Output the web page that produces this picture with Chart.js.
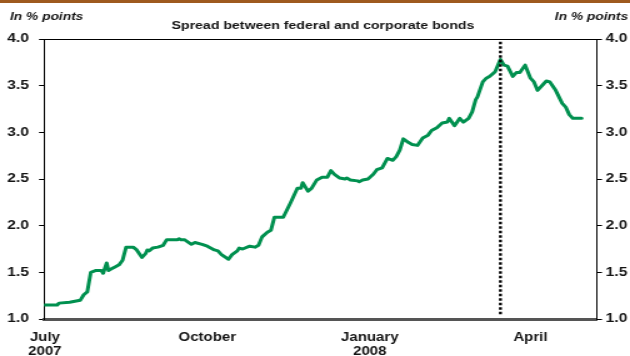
<!DOCTYPE html>
<html>
<head>
<meta charset="utf-8">
<script src="https://cdn.jsdelivr.net/npm/chart.js@4/dist/chart.umd.min.js"></script>
<style>
  html, body { margin: 0; padding: 0; background: #fff; overflow: hidden; }
  /* The chart is laid out narrow and widened horizontally, giving the wide lettering of the print original */
  #wrap { position: absolute; left: 0; top: 0; width: 504px; height: 356px; transform: scaleX(1.25); transform-origin: 0 0; }
</style>
</head>
<body>
<div id="wrap"><canvas id="chart"></canvas></div>
<script>
// Days since 1 July 2007
const days = [
  0, 7, 8, 14, 20, 22, 24, 26, 29, 32, 33, 35, 36, 38, 40, 42, 44, 46, 50, 52,
  55, 57, 58, 59, 61, 64, 67, 69, 75, 76, 77, 79, 83, 85, 89, 92, 96, 98, 100, 104,
  106, 109, 110, 112, 116, 119, 121, 123, 126, 128, 130, 135, 139, 143, 145, 146, 149, 151, 154, 157,
  160, 162, 164, 167, 170, 171, 173, 177, 178, 180, 183, 186, 188, 191, 194, 197, 199, 201, 203, 206,
  208, 211, 214, 217, 219, 222, 225, 228, 229, 232, 235, 237, 240, 242, 244, 245, 248, 250, 252, 255,
  258, 260, 262, 265, 267, 269, 272, 275, 277, 279, 282, 284, 286, 289, 293, 295, 297, 299, 304
];
// Spread between federal and corporate bonds, percentage points
const spread = [
  1.15, 1.15, 1.17, 1.18, 1.20, 1.26, 1.29, 1.50, 1.52, 1.52, 1.49, 1.60, 1.52, 1.54, 1.56, 1.58, 1.63, 1.77, 1.77, 1.74,
  1.66, 1.70, 1.74, 1.73, 1.76, 1.77, 1.79, 1.85, 1.85, 1.86, 1.85, 1.85, 1.80, 1.82, 1.80, 1.78, 1.74, 1.73, 1.69, 1.64,
  1.69, 1.73, 1.76, 1.75, 1.78, 1.77, 1.79, 1.88, 1.93, 1.95, 2.09, 2.09, 2.24, 2.40, 2.40, 2.46, 2.37, 2.40, 2.49, 2.52,
  2.52, 2.59, 2.55, 2.51, 2.50, 2.51, 2.49, 2.48, 2.47, 2.49, 2.50, 2.55, 2.60, 2.62, 2.72, 2.70, 2.74, 2.81, 2.93, 2.89,
  2.87, 2.86, 2.94, 2.97, 3.02, 3.05, 3.10, 3.11, 3.15, 3.07, 3.15, 3.11, 3.15, 3.22, 3.35, 3.38, 3.54, 3.58, 3.60, 3.65,
  3.78, 3.72, 3.71, 3.60, 3.64, 3.64, 3.72, 3.58, 3.54, 3.45, 3.51, 3.55, 3.54, 3.46, 3.31, 3.27, 3.19, 3.15, 3.15
];
// Month ticks on the time axis (days since 1 July 2007)
const monthTickDays = [0, 92, 184, 275];
const monthTickLabels = [['July', '2007'], 'October', ['January', '2008'], 'April'];
// Vertical marker: mid-March 2008
const eventDay = 258;
const eventSpan = [1.05, 4.0];

const FONT = "'Liberation Sans', Arial, Helvetica, sans-serif";
const INK = '#141414';

const headerPlugin = {
  id: 'header',
  afterDraw(chart) {
    const ctx = chart.ctx;
    const w = chart.width;
    ctx.save();
    ctx.fillStyle = '#9E5A1F';
    ctx.fillRect(0, 0, w, 3);
    ctx.fillStyle = INK;
    ctx.textBaseline = 'middle';
    ctx.font = 'italic bold 11px ' + FONT;
    ctx.textAlign = 'left';
    ctx.fillText('In % points', 8, 17);
    ctx.textAlign = 'right';
    ctx.fillText('In % points', w - 1.5, 17);
    ctx.font = 'bold 11.3px ' + FONT;
    ctx.textAlign = 'center';
    ctx.fillText('Spread between federal and corporate bonds', 258.4, 26);
    ctx.restore();
  }
};

const yTicks = {
  font: { family: FONT, size: 12.5, weight: 'bold' },
  color: INK,
  stepSize: 0.5,
  callback: v => v.toFixed(1)
};

new Chart(document.getElementById('chart'), {
  type: 'line',
  data: {
    datasets: [
      {
        data: [{ x: eventDay, y: eventSpan[0] }, { x: eventDay, y: eventSpan[1] }],
        borderColor: '#000',
        borderWidth: 2.4,
        borderDash: [2.6, 1.9],
        pointRadius: 0,
        order: 0,
        yAxisID: 'y'
      },
      {
        data: days.map((d, i) => ({ x: d, y: spread[i] })),
        borderColor: '#00904F',
        borderWidth: 3,
        borderJoinStyle: 'round',
        borderCapStyle: 'round',
        pointRadius: 0,
        tension: 0,
        order: 1,
        yAxisID: 'y'
      }
    ]
  },
  options: {
    responsive: true,
    maintainAspectRatio: false,
    animation: false,
    layout: { padding: { top: 39, left: 0, right: 0, bottom: 0 } },
    plugins: { legend: { display: false }, tooltip: { enabled: false } },
    scales: {
      x: {
        type: 'linear',
        min: -0.5,
        max: 312.7,
        afterBuildTicks(scale) { scale.ticks = monthTickDays.map(v => ({ value: v })); },
        afterFit(scale) { scale.height = 37; },
        ticks: {
          autoSkip: false,
          maxRotation: 0,
          padding: 11,
          font: { family: FONT, size: 12, weight: 'bold' },
          color: INK,
          callback: v => {
            const i = monthTickDays.indexOf(v);
            return i >= 0 ? monthTickLabels[i] : '';
          }
        },
        grid: { display: false, drawTicks: false, tickLength: 0 },
        border: { display: true, color: '#555', width: 3 }
      },
      y: {
        position: 'left',
        min: 1,
        max: 4,
        afterFit(scale) { scale.width = 35.2; },
        ticks: Object.assign({ padding: 8 }, yTicks),
        grid: {
          drawOnChartArea: true,
          color: c => (c.tick && c.tick.value === 4 ? '#000' : 'rgba(0,0,0,0)'),
          tickColor: '#000',
          tickLength: 4,
          lineWidth: 1
        },
        border: { display: true, color: '#000', width: 1 }
      },
      y2: {
        position: 'right',
        min: 1,
        max: 4,
        afterFit(scale) { scale.width = 26.4; },
        ticks: Object.assign({ padding: 3 }, yTicks),
        grid: { drawOnChartArea: false, tickColor: '#000', tickLength: 4, lineWidth: 1 },
        border: { display: true, color: '#000', width: 1 }
      }
    }
  },
  plugins: [headerPlugin]
});
</script>
</body>
</html>
